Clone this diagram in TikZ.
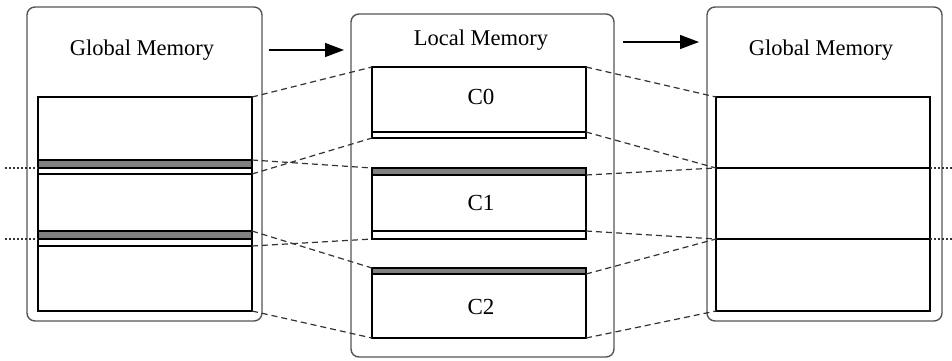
\documentclass[tikz,border=0pt]{standalone}
\usepackage{fontspec}
\setmainfont{Liberation Serif}
\usepackage{tikz}
\usetikzlibrary{positioning,arrows.meta}
\usepackage{xcolor}
\definecolor{frameGray}{HTML}{555555}
\definecolor{bandGray}{HTML}{808080}
\definecolor{linkGray}{HTML}{333333}

\begin{document}
\begin{tikzpicture}[
    x=1pt, y=-1pt,
    memFrame/.style={rectangle, rounded corners=8pt, draw=frameGray, line width=1.4pt, fill=white, outer sep=0pt, inner sep=0pt},
    memBlock/.style={rectangle, draw=black, line width=1.2pt, fill=white, minimum width=214pt, outer sep=0pt, inner sep=0pt},
    haloBand/.style={rectangle, draw=black, line width=1.2pt, fill=bandGray, minimum width=214pt, outer sep=0pt, inner sep=0pt},
    haloStrip/.style={rectangle, draw=black, line width=1.2pt, fill=white, minimum width=214pt, outer sep=0pt, inner sep=0pt},
    memTitle/.style={font=\fontsize{22.5}{26}\selectfont, inner sep=0pt},
    chunkLabel/.style={font=\fontsize{23}{26}\selectfont, inner sep=0pt},
    copyLink/.style={dashed, dash pattern=on 6pt off 4pt, line width=1.2pt, draw=linkGray},
    haloLink/.style={dash pattern=on 1.5pt off 2.5pt, line width=1.4pt, draw=linkGray}
]
    \useasboundingbox (0,0) rectangle (952,360);

    % global memory (source)
    \node[memFrame, minimum width=235pt, minimum height=314pt] (gframeL) at (144.5,164) {};
    \node[memTitle] (gtitleL) at (142,50) {Global Memory};
    \node[memBlock, minimum height=214pt] (gmemL) at (145,204) {};
    \node[haloBand, minimum height=8pt]  (lb1) at (145,164) {};
    \node[haloStrip, minimum height=6pt] (lh1) at (145,171) {};
    \node[haloBand, minimum height=8pt]  (lb2) at (145,235) {};
    \node[haloStrip, minimum height=7pt] (lh2) at (145,242.5) {};

    % local memory
    \node[memFrame, minimum width=263pt, minimum height=343pt] (lframe) at (482.5,185.5) {};
    \node[memTitle] (ltitle) at (481,40) {Local Memory};
    \node[memBlock, minimum height=71pt] (c0) at (479,102.5) {};
    \node[haloStrip, minimum height=6pt] (c0h) at (479,135) {};
    \node[chunkLabel] (c0t) at (481,97) {C0};
    \node[memBlock, minimum height=71pt] (c1) at (479,203.5) {};
    \node[haloBand, minimum height=7pt]  (c1b) at (479,171.5) {};
    \node[haloStrip, minimum height=8pt] (c1h) at (479,235) {};
    \node[chunkLabel] (c1t) at (481,203) {C1};
    \node[memBlock, minimum height=70pt] (c2) at (479,303) {};
    \node[haloBand, minimum height=6pt]  (c2b) at (479,271) {};
    \node[chunkLabel] (c2t) at (481,307) {C2};

    % global memory (result)
    \node[memFrame, minimum width=235pt, minimum height=314pt] (gframeR) at (824.5,164) {};
    \node[memTitle] (gtitleR) at (821,50) {Global Memory};
    \node[memBlock, minimum height=214pt] (gmemR) at (823,204) {};
    \coordinate (r1w) at (716,168);
    \coordinate (r1e) at (930,168);
    \coordinate (r2w) at (716,239);
    \coordinate (r2e) at (930,239);
    \draw[line width=1.2pt] (r1w) -- (r1e);
    \draw[line width=1.2pt] (r2w) -- (r2e);

    % flow arrows
    \coordinate (a1s) at (269,50);
    \coordinate (a1e) at (344,50);
    \coordinate (a2s) at (623,42);
    \coordinate (a2e) at (699,42);
    \draw[-{Triangle[length=19pt,width=14pt]}, line width=1.3pt] (a1s) -- (a1e);
    \draw[-{Triangle[length=19pt,width=14pt]}, line width=1.3pt] (a2s) -- (a2e);

    % copy in
    \draw[copyLink] (gmemL.north east) -- (c0.north west);
    \draw[copyLink] (lh1.south east)   -- (c0.south west);
    \draw[copyLink] (lb1.north east)   -- (c1.north west);
    \draw[copyLink] (lh2.south east)   -- (c1.south west);
    \draw[copyLink] (lb2.north east)   -- (c2.north west);
    \draw[copyLink] (gmemL.south east) -- (c2.south west);

    % copy out
    \draw[copyLink] (c0.north east)  -- (gmemR.north west);
    \draw[copyLink] (c0h.north east) -- (r1w);
    \draw[copyLink] (c1b.south east) -- (r1w);
    \draw[copyLink] (c1h.north east) -- (r2w);
    \draw[copyLink] (c2b.south east) -- (r2w);
    \draw[copyLink] (c2.south east)  -- (gmemR.south west);

    % halo boundaries
    \coordinate (hl1) at (5,168);
    \coordinate (hl2) at (5,239);
    \coordinate (hr1) at (952,168);
    \coordinate (hr2) at (952,239);
    \draw[haloLink] (hl1) -- (lb1.south west);
    \draw[haloLink] (hl2) -- (lb2.south west);
    \draw[haloLink] (r1e) -- (hr1);
    \draw[haloLink] (r2e) -- (hr2);
\end{tikzpicture}
\end{document}
